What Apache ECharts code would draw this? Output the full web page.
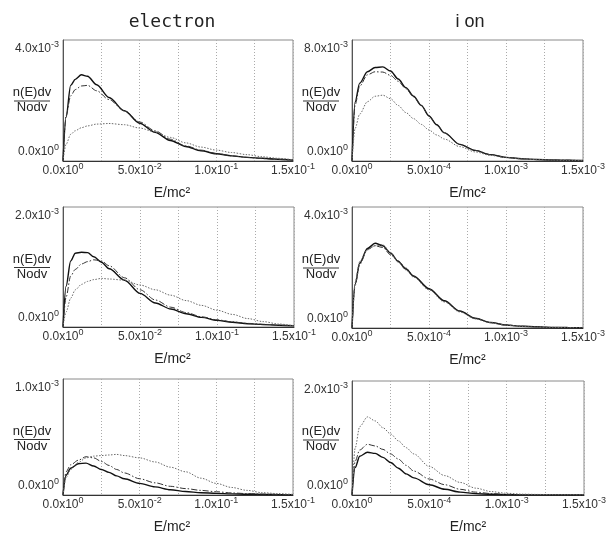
<!DOCTYPE html>
<html><head><meta charset="utf-8">
<script src="https://cdn.jsdelivr.net/npm/echarts@6/dist/echarts.min.js"></script>
<style>html,body{margin:0;padding:0;background:#fff}#c{width:613px;height:535px}</style>
</head><body><div id="c"></div>
<script>
// Energy positions: electron panels in units of 1e-2, ion panels in units of 1e-4
// Distribution values n(E)dv/Nodv in units of 1e-3
const electronUnit = 1e-2, ionUnit = 1e-4, yUnit = 1e-3;

const tlX = [0, 0.2, 0.5, 0.8, 1.2, 1.6, 2.2, 3.0, 4.0, 5.0, 6.0, 7.0, 8.0, 9.0, 10, 11, 12, 13, 14, 15];
const tlSolid = [0, 1.45, 2.5, 2.7, 2.85, 2.8, 2.52, 2.1, 1.66, 1.25, 0.95, 0.68, 0.48, 0.34, 0.24, 0.17, 0.12, 0.09, 0.06, 0.03];
const tlDash  = [0, 1.5, 2.15, 2.36, 2.48, 2.5, 2.32, 2.03, 1.66, 1.29, 1.0, 0.72, 0.5, 0.36, 0.25, 0.17, 0.12, 0.08, 0.05, 0.03];
const tlDot   = [0, 0.55, 0.88, 1.0, 1.1, 1.16, 1.22, 1.24, 1.2, 1.09, 0.96, 0.78, 0.6, 0.46, 0.36, 0.28, 0.21, 0.14, 0.09, 0.04];

const trX = [0, 0.2, 0.5, 1.0, 1.5, 2.0, 2.5, 3.0, 3.5, 4.0, 4.5, 5.0, 5.5, 6.0, 7.0, 8.0, 9.0, 10, 11, 12, 13, 14, 15];
const trSolid = [0, 3.9, 5.15, 5.9, 6.18, 6.22, 5.95, 5.42, 4.85, 4.28, 3.68, 2.98, 2.4, 1.86, 1.1, 0.7, 0.42, 0.24, 0.15, 0.1, 0.07, 0.05, 0.03];
const trDash  = [0, 3.7, 4.95, 5.7, 5.9, 5.88, 5.66, 5.27, 4.78, 4.24, 3.66, 2.98, 2.4, 1.86, 1.1, 0.7, 0.42, 0.24, 0.15, 0.1, 0.07, 0.05, 0.03];
const trDot   = [0, 2.15, 3.1, 3.92, 4.28, 4.35, 4.12, 3.67, 3.2, 2.8, 2.42, 2.05, 1.72, 1.45, 0.95, 0.6, 0.37, 0.22, 0.14, 0.09, 0.06, 0.04, 0.02];

const mlX = [0, 0.2, 0.5, 0.8, 1.2, 1.6, 2.0, 2.5, 3.0, 4.0, 5.0, 6.0, 7.0, 8.0, 9.0, 10, 11, 12, 13, 14, 15];
const mlSolid = [0, 0.68, 1.1, 1.23, 1.245, 1.24, 1.17, 1.08, 0.97, 0.78, 0.56, 0.4, 0.3, 0.22, 0.16, 0.11, 0.08, 0.055, 0.04, 0.03, 0.02];
const mlDash  = [0, 0.5, 0.85, 0.96, 1.05, 1.09, 1.12, 1.1, 1.02, 0.82, 0.62, 0.45, 0.33, 0.24, 0.17, 0.12, 0.085, 0.06, 0.045, 0.03, 0.02];
const mlDot   = [0, 0.25, 0.48, 0.62, 0.71, 0.76, 0.79, 0.81, 0.8, 0.78, 0.7, 0.62, 0.53, 0.44, 0.36, 0.28, 0.21, 0.14, 0.09, 0.05, 0.02];

const mrX = [0, 0.2, 0.5, 1.0, 1.5, 2.0, 2.5, 3.0, 3.5, 4.0, 5.0, 6.0, 7.0, 8.0, 9.0, 10, 11, 12, 13, 14, 15];
const mrSolid = [0, 1.45, 2.15, 2.63, 2.8, 2.72, 2.48, 2.2, 1.95, 1.72, 1.3, 0.9, 0.56, 0.32, 0.18, 0.1, 0.06, 0.04, 0.02, 0.015, 0.01];
const mrDash  = [0, 1.4, 2.1, 2.6, 2.72, 2.66, 2.42, 2.22, 1.98, 1.7, 1.28, 0.88, 0.55, 0.32, 0.18, 0.1, 0.06, 0.04, 0.02, 0.015, 0.01];
const mrDot   = [0, 1.5, 2.2, 2.58, 2.72, 2.75, 2.5, 2.18, 1.92, 1.68, 1.26, 0.86, 0.53, 0.3, 0.17, 0.09, 0.05, 0.03, 0.02, 0.01, 0.01];

const blX = [0, 0.2, 0.5, 1.0, 1.5, 2.0, 2.5, 3.0, 3.5, 4.0, 5.0, 6.0, 7.0, 8.0, 9.0, 10, 11, 12, 13, 14, 15];
const blSolid = [0, 0.17, 0.23, 0.27, 0.275, 0.25, 0.22, 0.195, 0.165, 0.14, 0.1, 0.07, 0.045, 0.03, 0.02, 0.014, 0.01, 0.007, 0.005, 0.003, 0.002];
const blDash  = [0, 0.2, 0.26, 0.3, 0.33, 0.32, 0.29, 0.255, 0.22, 0.19, 0.14, 0.105, 0.075, 0.055, 0.04, 0.028, 0.018, 0.012, 0.008, 0.005, 0.003];
const blDot   = [0, 0.15, 0.22, 0.28, 0.32, 0.335, 0.34, 0.345, 0.35, 0.34, 0.32, 0.285, 0.24, 0.2, 0.145, 0.1, 0.065, 0.04, 0.02, 0.012, 0.005];

const brX = [0, 0.2, 0.5, 1.0, 1.5, 2.0, 2.5, 3.0, 3.5, 4.0, 5.0, 6.0, 7.0, 8.0, 9.0, 10, 11, 12, 13, 14, 15];
const brSolid = [0, 0.48, 0.68, 0.75, 0.73, 0.66, 0.57, 0.47, 0.37, 0.3, 0.18, 0.1, 0.05, 0.025, 0.012, 0.006, 0.003, 0.002, 0.001, 0.001, 0];
const brDash  = [0, 0.59, 0.79, 0.89, 0.86, 0.8, 0.72, 0.63, 0.52, 0.42, 0.28, 0.18, 0.1, 0.05, 0.025, 0.012, 0.006, 0.003, 0.002, 0.001, 0.001];
const brDot   = [0, 0.82, 1.2, 1.37, 1.3, 1.18, 1.07, 0.95, 0.83, 0.72, 0.5, 0.34, 0.22, 0.12, 0.06, 0.03, 0.015, 0.01, 0.005, 0.003, 0.002];

// Tick labels ('^' marks the exponent)
const electronXTicks = ['0.0x10^0', '5.0x10^-2', '1.0x10^-1', '1.5x10^-1'];
const ionXTicks = ['0.0x10^0', '5.0x10^-4', '1.0x10^-3', '1.5x10^-3'];
const yZeroLabel = '0.0x10^0';
const yTopLabels = ['4.0x10^-3', '8.0x10^-3', '2.0x10^-3', '4.0x10^-3', '1.0x10^-3', '2.0x10^-3'];
const yMaxValues = [4, 8, 2, 4, 1, 2]; // in units of 1e-3
const columnTitles = ['electron', 'i on'];
const xName = 'E/mc²';
const yNameTop = 'n(E)dv', yNameBottom = 'Nodv';

const FONT = '"Liberation Sans", Arial, sans-serif';
const panels = [
  {x: tlX, ys: [tlSolid, tlDash, tlDot], xUnit: electronUnit, ticks: electronXTicks, rect: {left: 63, top: 40, width: 230, height: 121}, namePad: 12},
  {x: trX, ys: [trSolid, trDash, trDot], xUnit: ionUnit, ticks: ionXTicks, rect: {left: 352, top: 40, width: 231, height: 121}, namePad: 0},
  {x: mlX, ys: [mlSolid, mlDash, mlDot], xUnit: electronUnit, ticks: electronXTicks, rect: {left: 63, top: 207, width: 231, height: 120}, namePad: 12},
  {x: mrX, ys: [mrSolid, mrDash, mrDot], xUnit: ionUnit, ticks: ionXTicks, rect: {left: 352, top: 207, width: 231, height: 121}, namePad: 0},
  {x: blX, ys: [blSolid, blDash, blDot], xUnit: electronUnit, ticks: electronXTicks, rect: {left: 63, top: 379, width: 230, height: 120}, namePad: 12},
  {x: brX, ys: [brSolid, brDash, brDot], xUnit: ionUnit, ticks: ionXTicks, rect: {left: 352, top: 381, width: 232, height: 117}, namePad: 0}
];
const lineStyles = [
  {color: '#111', width: 1.4, type: 'solid'},
  {color: '#333', width: 1, type: [6, 2, 1.5, 2]},
  {color: '#6a6a6a', width: 1, type: [1.5, 1.5]}
];

function fmt(s) { const p = s.split('^'); return '{b|' + p[0] + '}{s|' + p[1] + '}'; }
const rich = {
  b: {fontSize: 12, lineHeight: 18, color: '#333', fontFamily: FONT},
  s: {fontSize: 9, lineHeight: 6, color: '#333', fontFamily: FONT, verticalAlign: 'top'}
};

const grid = [], xAxis = [], yAxis = [], series = [], graphic = [];
panels.forEach((p, k) => {
  const xMax = 15 * p.xUnit, step = 2.5 * p.xUnit, yMax = yMaxValues[k] * yUnit;
  grid.push(Object.assign({show: true, borderColor: '#8a8a8a', borderWidth: 1, containLabel: false}, p.rect));
  xAxis.push({
    type: 'value', gridIndex: k, position: 'bottom', min: 0, max: xMax, interval: step,
    axisLine: {show: true, lineStyle: {color: '#333', width: 1}},
    axisTick: {show: false},
    splitLine: {show: true, lineStyle: {color: '#aaa', type: [1, 2], width: 1}},
    axisLabel: {
      margin: 1, showMinLabel: true, showMaxLabel: true, rich: rich,
      formatter: v => { const i = Math.round(v / step); if (i % 2) return ''; const t = p.ticks[i / 2]; return t ? fmt(t) : ''; }
    },
    name: xName, nameLocation: 'middle', nameGap: 25,
    nameTextStyle: {fontSize: 14, color: '#222', fontFamily: FONT, padding: [0, p.namePad, 0, 0]}
  });
  // axis carrying the top label
  yAxis.push({
    type: 'value', gridIndex: k, position: 'left', offset: 0, min: 0, max: yMax, interval: yMax,
    axisLine: {show: true, lineStyle: {color: '#555'}}, axisTick: {show: false}, splitLine: {show: false},
    axisLabel: {margin: 4, verticalAlign: 'top', rich: rich, formatter: v => v > 0 ? fmt(yTopLabels[k]) : ''}
  });
  // axis carrying the zero label (same side, same scale)
  yAxis.push({
    type: 'value', gridIndex: k, position: 'left', offset: 0, min: 0, max: yMax, interval: yMax,
    axisLine: {show: false}, axisTick: {show: false}, splitLine: {show: false},
    axisLabel: {margin: 4, verticalAlign: 'bottom', rich: rich, formatter: v => v > 0 ? '' : fmt(yZeroLabel)}
  });
  p.ys.forEach((ys, j) => {
    series.push({
      type: 'line', xAxisIndex: k, yAxisIndex: 2 * k, showSymbol: false, silent: true,
      smooth: 0.3, smoothMonotone: 'x',
      lineStyle: lineStyles[j],
      data: p.x.map((x, i) => [x * p.xUnit, ys[i] * yUnit])
    });
  });
  const cx = p.rect.left - 31, cy = p.rect.top + p.rect.height / 2;
  graphic.push({
    type: 'group', x: cx, y: cy, silent: true,
    children: [
      {type: 'text', style: {text: yNameTop, x: 0, y: -8, align: 'center', verticalAlign: 'middle', font: '13px ' + FONT, fill: '#222'}},
      {type: 'line', shape: {x1: -18, y1: 0.5, x2: 18, y2: 0.5}, style: {stroke: '#333', lineWidth: 1}},
      {type: 'text', style: {text: yNameBottom, x: 0, y: 7, align: 'center', verticalAlign: 'middle', font: '13px ' + FONT, fill: '#222'}}
    ]
  });
});
graphic.push({type: 'text', silent: true, style: {text: columnTitles[0], x: 172, y: 22, align: 'center', verticalAlign: 'middle', font: '18px "DejaVu Sans Mono", monospace', fill: '#222'}});
graphic.push({type: 'text', silent: true, style: {text: columnTitles[1], x: 470, y: 22, align: 'center', verticalAlign: 'middle', font: '18px ' + FONT, fill: '#222'}});

const chart = echarts.init(document.getElementById('c'), null, {renderer: 'canvas'});
chart.setOption({animation: false, backgroundColor: '#fff', grid, xAxis, yAxis, series, graphic});
</script>
</body></html>
